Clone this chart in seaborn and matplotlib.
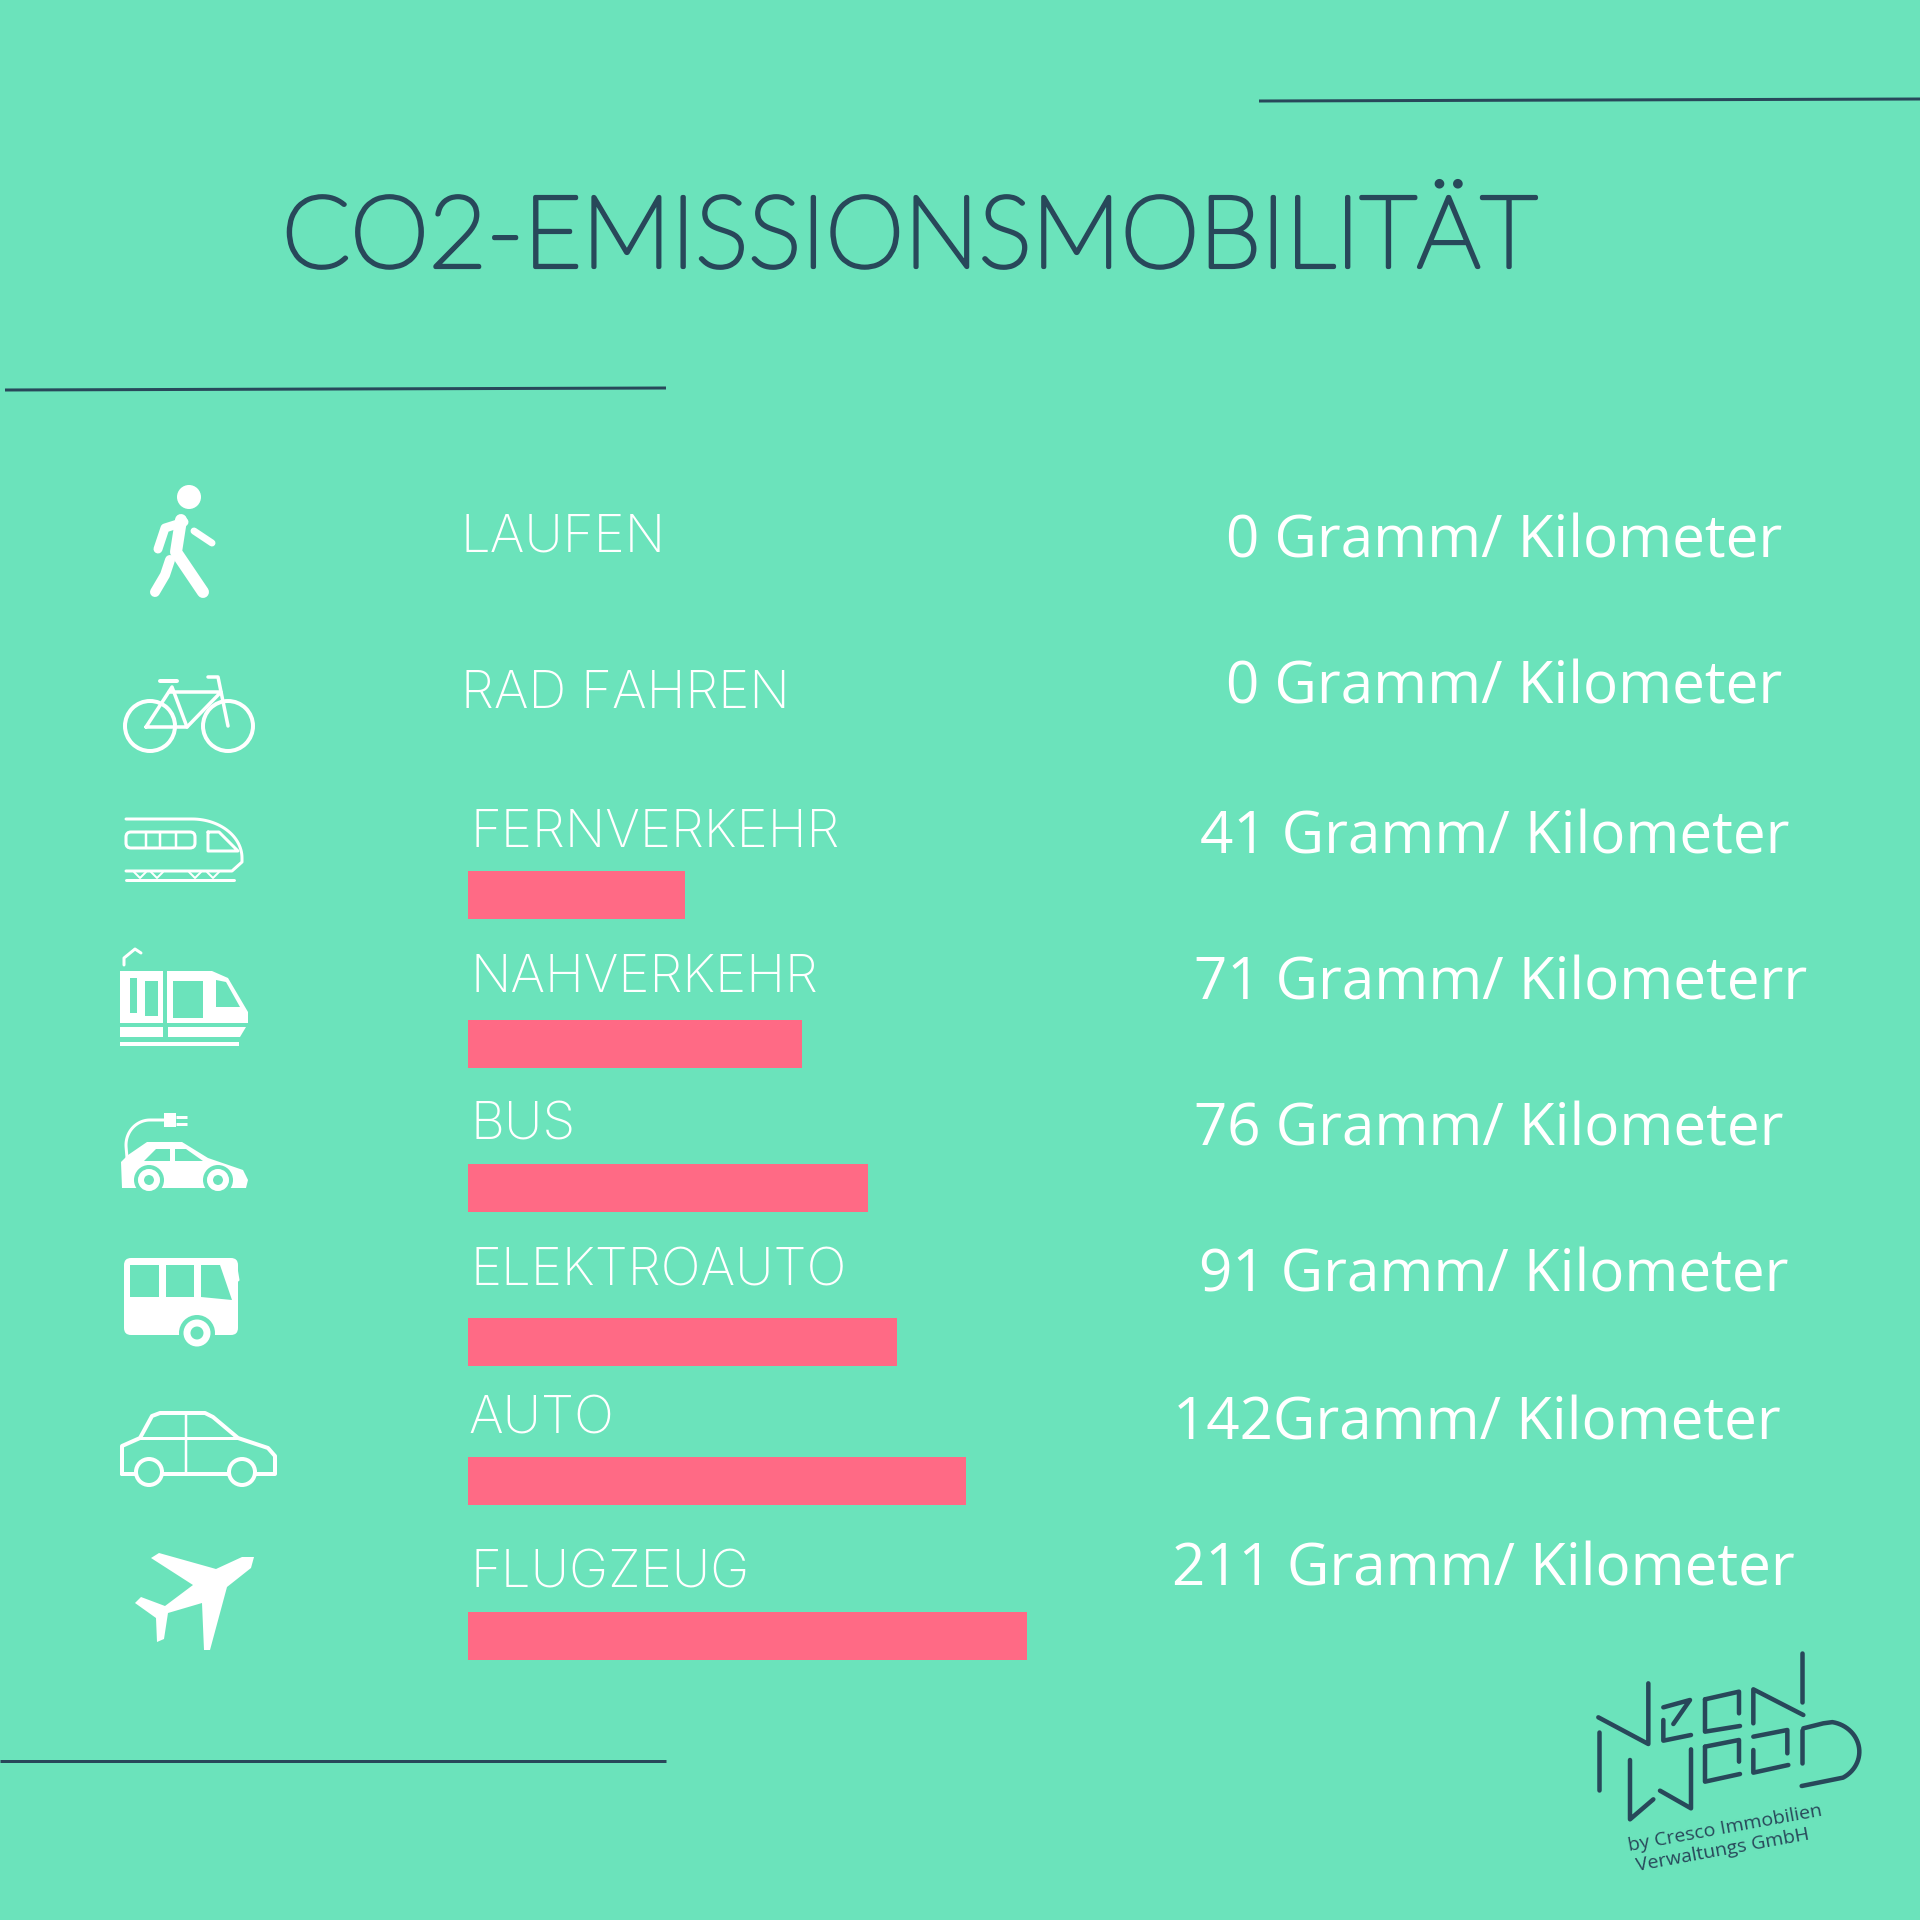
import matplotlib
matplotlib.use("Agg")
import matplotlib.pyplot as plt
import matplotlib.patheffects as pe
import numpy as np
import pandas as pd
import seaborn as sns
from matplotlib.patches import Circle, Polygon, FancyBboxPatch

# values
modes = ["LAUFEN", "RAD FAHREN", "FERNVERKEHR", "NAHVERKEHR", "BUS", "ELEKTROAUTO", "AUTO", "FLUGZEUG"]
value_labels = ["0 Gramm/ Kilometer", "0 Gramm/ Kilometer", "41 Gramm/ Kilometer", "71 Gramm/ Kilometerr",
                "76 Gramm/ Kilometer", "91 Gramm/ Kilometer", "142Gramm/ Kilometer", "211 Gramm/ Kilometer"]
# the bars in the original are not to scale with the grams, so lengths are measured
bar_lengths = [0, 0, 217, 334, 400, 429, 498, 559]

# layout, in pixels of the 1920 picture
row_y = [600, 747, 895, 1044, 1188, 1342, 1481, 1636]
label_x = [461, 461, 470, 470, 470, 470, 468, 470]
label_base = [552, 708, 847, 992, 1140, 1286, 1433, 1587]
value_x = [1226, 1226, 1200, 1194, 1194, 1199, 1173, 1172]
value_base = [557, 704, 853, 1000, 1146, 1292, 1439, 1586]

BG = "#6BE3BB"
DARK = "#28485A"
PINK = "#FF6A85"
WHITE = "#FFFFFF"

sns.set_theme(style="white")
plt.rcParams["font.family"] = ["Lato", "DejaVu Sans"]

fig = plt.figure(figsize=(19.2, 19.2), dpi=100, facecolor=BG)
ax = fig.add_axes([0, 0, 1, 1])
ax.set_xlim(0, 1920)
ax.set_ylim(1920, 0)
ax.axis("off")

# bars get their own axes so that length 0 sits at the left edge of the bars
ax_bars = fig.add_axes([468 / 1920, 0, 600 / 1920, 1])
df = pd.DataFrame({"row": row_y, "length": bar_lengths})
sns.barplot(data=df, x="length", y="row", orient="h", native_scale=True, color=PINK,
            saturation=1, width=0.35, linewidth=0, edgecolor="none", ax=ax_bars)
ax_bars.set_xlim(0, 600)
ax_bars.set_ylim(1920, 0)
ax_bars.axis("off")
ax_bars.patch.set_alpha(0)


def stroke(pts, lw=4, color=WHITE, cap="round", join="round"):
    xs = [p[0] for p in pts]
    ys = [p[1] for p in pts]
    ax.plot(xs, ys, color=color, lw=lw * 0.72, solid_capstyle=cap, solid_joinstyle=join, zorder=3)


def fill(pts, color=WHITE):
    ax.add_patch(Polygon(pts, closed=True, facecolor=color, edgecolor="none", zorder=3))


def ring(x, y, r, lw=4, face=BG):
    ax.add_patch(Circle((x, y), r, facecolor=face, edgecolor=WHITE, lw=lw * 0.72, zorder=4))


def arc(cx, cy, rx, ry, a0, a1):
    t = np.radians(np.linspace(a0, a1, 30))
    return list(zip(cx + rx * np.cos(t), cy + ry * np.sin(t)))


# rules
stroke([(1259, 101), (1920, 99)], lw=3, color=DARK, cap="butt")
stroke([(5, 390), (666, 388)], lw=3, color=DARK, cap="butt")
stroke([(0, 1761), (666, 1761)], lw=3, color=DARK, cap="butt")

# title, the thin Lato is thickened with a stroke
ax.text(282, 267, "CO2-EMISSIONSMOBILITÄT", fontsize=72, fontweight="light", color=DARK, va="baseline",
        path_effects=[pe.withStroke(linewidth=3.0, foreground=DARK)])

# rows
for name, x, y in zip(modes, label_x, label_base):
    ax.text(x, y, name, fontsize=38, family="Inter", fontweight="light", color=WHITE, va="baseline")
for lab, x, y in zip(value_labels, value_x, value_base):
    ax.text(x, y, lab, fontsize=42, family="Open Sans", fontweight="medium", color=WHITE, va="baseline")

# walker
ax.add_patch(Circle((189, 497), 12, facecolor=WHITE, edgecolor="none", zorder=3))
stroke([(184, 522), (165, 528), (158, 549)], lw=9)
stroke([(194, 531), (212, 543)], lw=7)
stroke([(181, 520), (176, 552), (203, 592)], lw=12)
stroke([(170, 560), (165, 575), (155, 592)], lw=10)

# bicycle
ring(150, 726, 25, lw=4, face="none")
ring(228, 726, 25, lw=4, face="none")
stroke([(146, 727), (172, 687), (187, 727), (146, 727)], lw=3.5)
stroke([(187, 727), (221, 692), (169, 692)], lw=3.5)
stroke([(160, 681), (177, 681)], lw=4)
stroke([(208, 677), (218, 677), (228, 726)], lw=3.5)

# long distance train
stroke([(126, 819), (192, 819)] + arc(192, 858, 50, 39, -90, 0) + [(242, 862), (232, 871), (126, 871)], lw=3)
ax.add_patch(FancyBboxPatch((126, 832), 69, 16, boxstyle="round,pad=0,rounding_size=5", fill=False, ec=WHITE, lw=2.2, zorder=3))
for dx in [146, 160, 176]:
    stroke([(dx, 832), (dx, 848)], lw=2.5)
stroke([(208, 832), (219, 832), (238, 851), (208, 851), (208, 832)], lw=3)
stroke([(126, 880), (234, 880)], lw=3)
for dx in [140, 157, 195, 213]:
    stroke([(dx - 6, 872), (dx, 878), (dx + 6, 872)], lw=2)

# tram
fill([(120, 971), (212, 971), (228, 978), (248, 1012), (248, 1023), (120, 1023)])
fill([(145, 981), (158, 981), (158, 1016), (145, 1016)], BG)
fill([(130, 978), (137, 978), (137, 1013), (130, 1013)], BG)
fill([(173, 981), (203, 981), (203, 1018), (173, 1018)], BG)
fill([(216, 980), (226, 982), (240, 1007), (216, 1007)], BG)
stroke([(165, 971), (165, 1023)], lw=4, color=BG, cap="butt")
fill([(120, 1027), (163, 1027), (163, 1037), (120, 1037)])
fill([(168, 1027), (246, 1027), (240, 1037), (168, 1037)])
fill([(120, 1042), (239, 1042), (239, 1046), (120, 1046)])
stroke([(124, 965), (124, 958), (135, 949), (141, 953)], lw=3)

# electric car
fill([(121, 1162), (128, 1155), (147, 1142), (182, 1142), (208, 1158), (243, 1170), (248, 1180), (246, 1188), (122, 1188)])
fill([(144, 1161), (156, 1149), (170, 1149), (170, 1161)], BG)
fill([(175, 1149), (186, 1149), (203, 1161), (175, 1161)], BG)
ax.add_patch(Circle((149, 1180), 15, facecolor=BG, edgecolor="none", zorder=3))
ax.add_patch(Circle((218, 1180), 15, facecolor=BG, edgecolor="none", zorder=3))
ring(149, 1180, 8, lw=6)
ring(218, 1180, 8, lw=6)
stroke([(127, 1158)] + arc(150, 1145, 24, 25, 175, 270) + [(164, 1120)], lw=3)
fill([(164, 1113), (176, 1113), (176, 1127), (164, 1127)])
stroke([(176, 1117), (187, 1117)], lw=3, cap="butt")
stroke([(176, 1124), (187, 1124)], lw=3, cap="butt")

# bus
ax.add_patch(FancyBboxPatch((124, 1258), 114, 77, boxstyle="round,pad=0,rounding_size=7", fc=WHITE, ec="none", zorder=3))
fill([(130, 1265), (159, 1265), (159, 1297), (130, 1297)], BG)
fill([(166, 1265), (194, 1265), (194, 1297), (166, 1297)], BG)
fill([(201, 1265), (220, 1265), (232, 1300), (201, 1297)], BG)
stroke([(226, 1264), (236, 1268), (238, 1280)], lw=3)
ax.add_patch(Circle((197, 1333), 18, facecolor=BG, edgecolor="none", zorder=3))
ring(197, 1333, 10, lw=7)

# car
stroke([(122, 1474), (122, 1446), (140, 1438), (152, 1416), (160, 1413), (205, 1413), (213, 1417), (238, 1438),
        (268, 1448), (275, 1456), (275, 1474), (122, 1474)], lw=4)
stroke([(140, 1438), (238, 1438)], lw=3)
stroke([(186, 1415), (186, 1472)], lw=2.5)
ring(149, 1472, 13, lw=4)
ring(242, 1472, 13, lw=4)

# plane
fill([(254, 1557), (251, 1568), (227, 1587), (210, 1650), (204, 1650), (202, 1603), (168, 1613), (164, 1639),
      (157, 1642), (156, 1618), (135, 1603), (141, 1597), (165, 1606), (193, 1585), (151, 1558), (159, 1553),
      (216, 1569), (242, 1557)])

# logo
logo_lines = [
    [(176, 337), (176, 510)],
    [(175, 292), (325, 372), (325, 190)],
    [(370, 262), (450, 240), (400, 312)],
    [(370, 300), (370, 362), (453, 345)],
    [(495, 238), (597, 215), (597, 280)],
    [(495, 238), (495, 335), (600, 318)],
    [(640, 310), (640, 208), (790, 285)],
    [(785, 100), (785, 245)],
    [(270, 420), (270, 598), (340, 538)],
    [(360, 512), (453, 565), (453, 388)],
    [(495, 380), (597, 360), (597, 425)],
    [(495, 380), (495, 485), (600, 462)],
    [(640, 350), (742, 330), (742, 400)],
    [(640, 390), (640, 458), (745, 435)],
    [(785, 330), (785, 430)],
    [(790, 325), (850, 310)] + arc(860, 395, 98, 90, -80, 60) + [(785, 498)],
]
for seg in logo_lines:
    stroke([(1540 + px / 3, 1620 + py / 3) for px, py in seg], lw=4.5, color=DARK)
ax.text(1629, 1851, "by Cresco Immobilien", fontsize=14, family="Open Sans", color=DARK, rotation=10.4, rotation_mode="anchor", va="baseline")
ax.text(1637, 1871, "Verwaltungs GmbH", fontsize=14, family="Open Sans", color=DARK, rotation=10.4, rotation_mode="anchor", va="baseline")

fig.savefig("out.png", dpi=100, facecolor=BG)
